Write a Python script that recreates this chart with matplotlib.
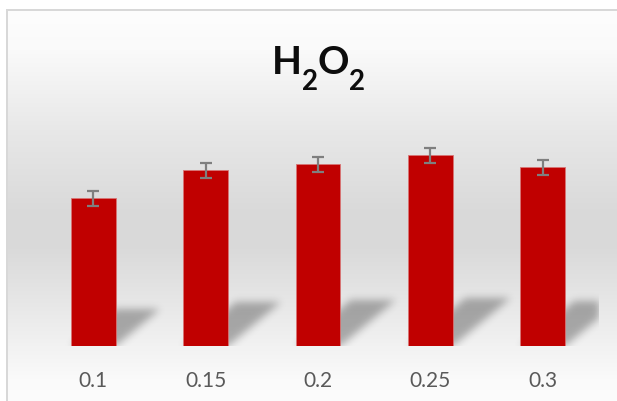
import numpy as np
import matplotlib
matplotlib.use("Agg")
import matplotlib.pyplot as plt

plt.rcParams["font.family"] = ["Lato", "DejaVu Sans"]

categories = ["0.1", "0.15", "0.2", "0.25", "0.3"]
values = [148, 176, 182, 191, 179]
errors = [7.5, 7.5, 7.5, 7.5, 7.5]
title_parts = [("H", False), ("2", True), ("O", False), ("2", True)]

W, H = 617, 402
fig = plt.figure(figsize=(W / 100, H / 100), dpi=100)

# chart area: grey vertical gradient with a light border
rows = np.arange(H)
col = np.interp(rows, [11, 50, 130, 215, 250, 300, 347, 380, 402],
                [253, 250, 232, 217, 218, 230, 242, 250, 252]) / 255
bg = np.ones((H, W, 3)) * col[:, None, None]
bg[:11, :, :] = 1
bg[:, :7, :] = 1
bg[10:12, 7:, :] = 0.85
bg[10:, 6:8, :] = 0.85
bg_ax = fig.add_axes([0, 0, 1, 1], zorder=-1)
bg_ax.imshow(bg, aspect="auto", interpolation="nearest")
bg_ax.axis("off")

# plot area
ax_w, ax_h = 562, 246
ax = fig.add_axes([37 / W, (H - 347) / H, ax_w / W, ax_h / H])
x = np.arange(len(categories))
ymax = 246

# soft perspective shadows behind bars
ppx = ax_w / len(categories)
ppy = ax_h / ymax
gx = np.arange(ax_w)[None, :] + 0.5
gy = np.arange(ax_h)[:, None] + 0.5
mask = np.zeros((ax_h, ax_w))
for i, v in enumerate(values):
    h = v * ppy
    x0 = (i - 0.2 + 0.5) * ppx
    x1 = (i + 0.2 + 0.5) * ppx
    inside = (gy <= 0.25 * h) & (gx >= x0 + 1.2 * gy) & (gx <= x1 + 1.2 * gy)
    mask[inside] = 1
t = np.arange(-12, 13)
k = np.exp(-t ** 2 / (2 * 4.0 ** 2))
k /= k.sum()
blur = np.array([np.convolve(r, k, mode="same") for r in mask])
blur = np.array([np.convolve(c, k, mode="same") for c in blur.T]).T
shadow = np.zeros((ax_h, ax_w, 4))
shadow[..., 3] = 0.3 * blur
ax.imshow(shadow, extent=(-0.5, len(categories) - 0.5, 0, ymax), origin="lower",
          aspect="auto", interpolation="bilinear", zorder=2)
ax.set_xlim(-0.5, len(categories) - 0.5)
ax.set_ylim(0, ymax)

ax.bar(x, values, width=0.4, color="#C00000", edgecolor="#D87575", linewidth=0.6, zorder=3)
ax.errorbar(x, values, yerr=errors, fmt="none", ecolor="#7F7F7F", elinewidth=1.6,
            capsize=4.3, capthick=1.6, zorder=4)

ax.set_xticks(x, categories)
ax.set_yticks([])
ax.tick_params(axis="x", length=0, pad=17, labelsize=15, labelcolor="#595959")
for s in ax.spines.values():
    s.set_visible(False)
ax.patch.set_visible(False)

# title H2O2 with real subscripts, built piece by piece
renderer = fig.canvas.get_renderer()
texts = []
for part, sub in title_parts:
    tt = fig.text(0, 0, part, fontsize=20 if sub else 28, fontweight="bold",
                  color="#0D0D0D", ha="left", va="baseline",
                  transform=None)
    texts.append((tt, sub))
widths = [tt.get_window_extent(renderer).width for tt, _ in texts]
xpos = 318.5 - sum(widths) / 2
for (tt, sub), w in zip(texts, widths):
    tt.set_position((xpos, H - (90 if sub else 74)))
    xpos += w

fig.savefig("out.png", dpi=100)
